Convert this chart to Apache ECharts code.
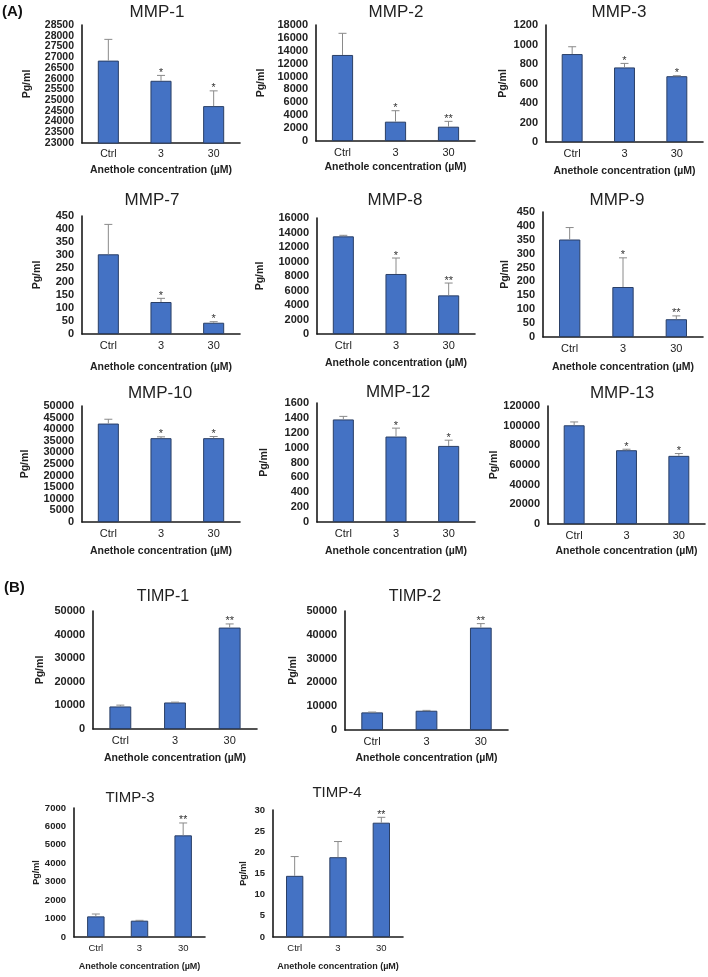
<!DOCTYPE html>
<html><head><meta charset="utf-8">
<script src="https://cdn.jsdelivr.net/npm/echarts@6/dist/echarts.min.js"></script>
<style>html,body{margin:0;padding:0;background:#fff}#c{width:708px;height:977px}</style>
</head><body><div id="c"></div>
<script>
// ---------- DATA ----------
const categories = ['Ctrl', '3', '30'];
const xAxisName = 'Anethole concentration (µM)';
const yAxisName = 'Pg/ml';

const mmp1Mean = [26840, 25900, 24720];  const mmp1Err = [990, 250, 710];   const mmp1Sig = ['', '*', '*'];   const mmp1Ticks = [23000, 28500, 500];
const mmp2Mean = [13350, 3000, 2220];    const mmp2Err = [3360, 1700, 830];  const mmp2Sig = ['', '*', '**'];  const mmp2Ticks = [0, 18000, 2000];
const mmp3Mean = [902, 765, 675];        const mmp3Err = [75, 41, 5];        const mmp3Sig = ['', '*', '*'];   const mmp3Ticks = [0, 1200, 200];
const mmp7Mean = [304, 122, 43];         const mmp7Err = [114, 14, 4];       const mmp7Sig = ['', '*', '*'];   const mmp7Ticks = [0, 450, 50];
const mmp8Mean = [13470, 8280, 5330];    const mmp8Err = [140, 2200, 1700];  const mmp8Sig = ['', '*', '**'];  const mmp8Ticks = [0, 16000, 2000];
const mmp9Mean = [351, 180, 64];         const mmp9Err = [43, 105, 12];      const mmp9Sig = ['', '*', '**'];  const mmp9Ticks = [0, 450, 50];
const mmp10Mean = [42430, 36140, 36140]; const mmp10Err = [1860, 570, 710];  const mmp10Sig = ['', '*', '*'];  const mmp10Ticks = [0, 50000, 5000];
const mmp12Mean = [1379, 1149, 1023];    const mmp12Err = [41, 113, 77];     const mmp12Sig = ['', '*', '*'];  const mmp12Ticks = [0, 1600, 200];
const mmp13Mean = [100400, 75040, 69300];const mmp13Err = [3380, 1000, 2360];const mmp13Sig = ['', '*', '*'];  const mmp13Ticks = [0, 120000, 20000];
const timp1Mean = [9550, 11240, 42980];  const timp1Err = [560, 140, 1540];  const timp1Sig = ['', '', '**'];  const timp1Ticks = [0, 50000, 10000];
const timp2Mean = [7400, 8100, 43020];   const timp2Err = [140, 140, 1680];  const timp2Sig = ['', '', '**'];  const timp2Ticks = [0, 50000, 10000];
const timp3Mean = [1120, 886, 5517];     const timp3Err = [128, 18, 670];    const timp3Sig = ['', '', '**'];  const timp3Ticks = [0, 7000, 1000];
const timp4Mean = [14.45, 18.85, 27.0];  const timp4Err = [4.55, 3.7, 1.27]; const timp4Sig = ['', '', '**'];  const timp4Ticks = [0, 30, 5];

// ---------- LAYOUT ----------
const FONT = '"Liberation Sans", Arial, sans-serif';
const panels = [
  {t:'MMP-1', m:mmp1Mean, e:mmp1Err, s:mmp1Sig, k:mmp1Ticks, box:[82,25,158,118], tp:[157,12], yg:49, xg:22, ts:17, fs:10.5, ns:10.5, ends:true},
  {t:'MMP-2', m:mmp2Mean, e:mmp2Err, s:mmp2Sig, k:mmp2Ticks, box:[316,25,159,116], tp:[396,12], yg:49, xg:21, ts:17, fs:11, ns:10.5},
  {t:'MMP-3', m:mmp3Mean, e:mmp3Err, s:mmp3Sig, k:mmp3Ticks, box:[546,25,157,117], tp:[619,12], yg:37, xg:24, ts:17, fs:11, ns:10.5},
  {t:'MMP-7', m:mmp7Mean, e:mmp7Err, s:mmp7Sig, k:mmp7Ticks, box:[82,216,158,118], tp:[152,200], yg:39, xg:28, ts:17, fs:11, ns:10.5},
  {t:'MMP-8', m:mmp8Mean, e:mmp8Err, s:mmp8Sig, k:mmp8Ticks, box:[317,218,158,116], tp:[395,200], yg:51, xg:24, ts:17, fs:11, ns:10.5},
  {t:'MMP-9', m:mmp9Mean, e:mmp9Err, s:mmp9Sig, k:mmp9Ticks, box:[543,212,160,125], tp:[617,200], yg:32, xg:25, ts:17, fs:11, ns:10.5},
  {t:'MMP-10', m:mmp10Mean, e:mmp10Err, s:mmp10Sig, k:mmp10Ticks, box:[82,406,158,116], tp:[160,393], yg:51, xg:24, ts:17, fs:11, ns:10.5},
  {t:'MMP-12', m:mmp12Mean, e:mmp12Err, s:mmp12Sig, k:mmp12Ticks, box:[317,403,158,119], tp:[398,392], yg:47, xg:24, ts:17, fs:11, ns:10.5},
  {t:'MMP-13', m:mmp13Mean, e:mmp13Err, s:mmp13Sig, k:mmp13Ticks, box:[548,406,157,118], tp:[622,393], yg:45, xg:22, ts:17, fs:11, ns:10.5},
  {t:'TIMP-1', m:timp1Mean, e:timp1Err, s:timp1Sig, k:timp1Ticks, box:[93,611,164,118], tp:[163,597], yg:47, xg:24, ts:16, fs:11, ns:10.5},
  {t:'TIMP-2', m:timp2Mean, e:timp2Err, s:timp2Sig, k:timp2Ticks, box:[345,611,163,119], tp:[415,597], yg:46, xg:23, ts:16, fs:11, ns:10.5},
  {t:'TIMP-3', m:timp3Mean, e:timp3Err, s:timp3Sig, k:timp3Ticks, box:[74,808,131,129], tp:[130,798], yg:33, xg:25, ts:15, fs:9.5, ns:9},
  {t:'TIMP-4', m:timp4Mean, e:timp4Err, s:timp4Sig, k:timp4Ticks, box:[273,810,130,127], tp:[337,793], yg:25, xg:25, ts:15, fs:9.5, ns:9}
];

const grid = [], xAxis = [], yAxis = [], series = [];
const graphic = [
  {type:'text', left:2, top:4, style:{text:'(A)', font:'bold 15px ' + FONT, fill:'#111'}},
  {type:'text', left:4, top:580, style:{text:'(B)', font:'bold 15px ' + FONT, fill:'#111'}}
];

function makeErr(sig, fs) {
  return function (params, api) {
    const x = api.value(0), m = api.value(1), e = api.value(2);
    const p0 = api.coord([x, m]);
    const p1 = api.coord([x, m + e]);
    const cap = 4;
    const children = [];
    if (e > 0) {
      children.push({type:'line', shape:{x1:p0[0], y1:p0[1], x2:p1[0], y2:p1[1]}, style:{stroke:'#8a8a8a', lineWidth:1}});
      children.push({type:'line', shape:{x1:p1[0]-cap, y1:p1[1], x2:p1[0]+cap, y2:p1[1]}, style:{stroke:'#8a8a8a', lineWidth:1}});
    }
    const s = sig[params.dataIndex];
    if (s) {
      children.push({type:'text', style:{text:s, x:p1[0], y:p1[1] + 3, align:'center', verticalAlign:'bottom', fontSize:Math.max(fs, 10.5), fontFamily:FONT, fill:'#333'}});
    }
    return {type:'group', children};
  };
}

function labelStyle(p) {
  return {margin:8, fontSize:p.fs, fontWeight:'bold', fontFamily:FONT, color:'#222', hideOverlap:false, formatter:(v) => String(v)};
}

panels.forEach((p, i) => {
  grid.push({left:p.box[0], top:p.box[1], width:p.box[2], height:p.box[3], containLabel:false, outerBoundsMode:'none'});
  xAxis.push({
    type:'category', gridIndex:i, data:categories,
    axisLine:{show:true, onZero:false, lineStyle:{color:'#1a1a1a', width:1.6}},
    axisTick:{show:false},
    axisLabel:{margin:6, fontSize:p.fs, fontFamily:FONT, color:'#222'},
    name:xAxisName, nameLocation:'middle', nameGap:p.xg,
    nameTextStyle:{fontSize:p.ns, fontWeight:'bold', fontFamily:FONT, color:'#222'}
  });
  const yIdx = yAxis.length;
  const lab = labelStyle(p);
  if (p.ends) { lab.showMinLabel = false; lab.showMaxLabel = false; }
  else { lab.showMinLabel = true; lab.showMaxLabel = true; }
  yAxis.push({
    type:'value', gridIndex:i, min:p.k[0], max:p.k[1], interval:p.k[2],
    axisLine:{show:true, lineStyle:{color:'#1a1a1a', width:1.6}},
    axisTick:{show:false}, splitLine:{show:false},
    axisLabel:lab,
    name:yAxisName, nameLocation:'middle', nameRotate:90, nameGap:p.yg,
    nameTextStyle:{fontSize:p.ns, fontWeight:'bold', fontFamily:FONT, color:'#222'}
  });
  if (p.ends) {
    // companion axis carrying only the end labels (min and max) on the same scale
    const lab2 = labelStyle(p); lab2.showMinLabel = true; lab2.showMaxLabel = true;
    yAxis.push({
      type:'value', gridIndex:i, position:'left', min:p.k[0], max:p.k[1], interval:p.k[1] - p.k[0],
      axisLine:{show:false}, axisTick:{show:false}, splitLine:{show:false}, axisLabel:lab2
    });
  }
  series.push({
    type:'bar', xAxisIndex:i, yAxisIndex:yIdx, barWidth:'40%',
    data:p.m,
    itemStyle:{color:'#4472C4', borderColor:'#2A3F66', borderWidth:1},
    silent:true, animation:false
  });
  series.push({
    type:'custom', xAxisIndex:i, yAxisIndex:yIdx,
    data:p.m.map((v, j) => [j, v, p.e[j]]),
    renderItem:makeErr(p.s, p.fs),
    silent:true, animation:false, z:5
  });
  graphic.push({type:'text', x:p.tp[0], y:p.tp[1], style:{text:p.t, font:p.ts + 'px ' + FONT, fill:'#222', align:'center', verticalAlign:'middle'}});
});

const chart = echarts.init(document.getElementById('c'), null, {renderer:'canvas'});
chart.setOption({animation:false, backgroundColor:'#fff', grid, xAxis, yAxis, series, graphic});
</script>
</body></html>
